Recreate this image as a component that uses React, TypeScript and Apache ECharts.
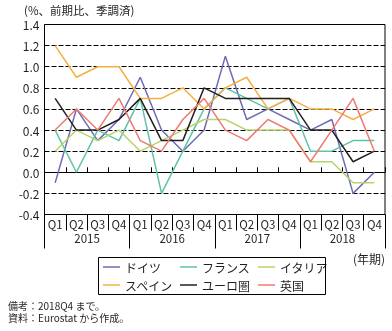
import React, { useEffect, useRef } from "react";
import * as echarts from "echarts";

const quarters = ["Q1","Q2","Q3","Q4","Q1","Q2","Q3","Q4","Q1","Q2","Q3","Q4","Q1","Q2","Q3","Q4"];
const years = ["2015", "2016", "2017", "2018"];
const germany = [-0.1, 0.6, 0.3, 0.5, 0.9, 0.4, 0.2, 0.4, 1.1, 0.5, 0.6, 0.5, 0.4, 0.5, -0.2, 0.0];
const france = [0.4, 0.0, 0.4, 0.3, 0.7, -0.2, 0.2, 0.6, 0.8, 0.7, 0.6, 0.7, 0.2, 0.2, 0.3, 0.3];
const italy = [0.2, 0.4, 0.3, 0.4, 0.2, 0.3, 0.4, 0.5, 0.5, 0.4, 0.4, 0.4, 0.1, 0.1, -0.1, -0.1];
const spain = [1.2, 0.9, 1.0, 1.0, 0.7, 0.7, 0.8, 0.6, 0.8, 0.9, 0.6, 0.7, 0.6, 0.6, 0.5, 0.6];
const euro = [0.7, 0.4, 0.4, 0.5, 0.7, 0.3, 0.3, 0.8, 0.7, 0.7, 0.7, 0.7, 0.4, 0.4, 0.1, 0.2];
const uk = [0.4, 0.6, 0.4, 0.7, 0.3, 0.2, 0.5, 0.7, 0.4, 0.3, 0.5, 0.4, 0.1, 0.4, 0.7, 0.2];

const seriesDefs = [
  { name: "ドイツ", data: germany, color: "#6c6cb5" },
  { name: "フランス", data: france, color: "#5fc3a6" },
  { name: "イタリア", data: italy, color: "#b5d56a" },
  { name: "スペイン", data: spain, color: "#f5b041" },
  { name: "ユーロ圏", data: euro, color: "#231f20" },
  { name: "英国", data: uk, color: "#ee7b72" },
];

const legendPos = [
  { left: 103, top: 261 },
  { left: 180, top: 261 },
  { left: 258, top: 261 },
  { left: 103, top: 279 },
  { left: 180, top: 279 },
  { left: 258, top: 279 },
];

const FONT = "Noto Sans CJK JP, Noto Sans, sans-serif";
const TXT = "#231f20";

export default function App() {
  const ref = useRef<HTMLDivElement>(null);
  useEffect(() => {
    if (!ref.current) return;
    const chart = echarts.init(ref.current, undefined, { renderer: "svg" });
    const legends = seriesDefs.map((s, i) => ({
      show: true,
      data: [s.name],
      left: legendPos[i].left,
      top: legendPos[i].top,
      padding: 0,
      icon: "rect",
      itemWidth: 17,
      itemHeight: 1.5,
      itemGap: 5,
      selectedMode: false,
      textStyle: { fontFamily: FONT, fontSize: 12, color: TXT },
    }));
    chart.setOption({
      animation: false,
      textStyle: { fontFamily: FONT },
      grid: {
        left: 44.5,
        top: 24.5,
        width: 340.5,
        height: 190,
        show: true,
        borderColor: "#000",
        borderWidth: 1,
        backgroundColor: "transparent",
      },
      legend: legends,
      xAxis: [
        {
          type: "category",
          data: quarters,
          position: "bottom",
          boundaryGap: true,
          axisLine: { show: true, onZero: true, lineStyle: { color: "#000", width: 1 } },
          axisTick: { show: true, inside: true, length: 5, interval: 0, lineStyle: { color: "#000" } },
          axisLabel: { show: false },
          splitLine: { show: false },
        },
        {
          type: "category",
          data: quarters,
          position: "bottom",
          boundaryGap: true,
          axisLine: { show: false, onZero: false },
          axisTick: { show: true, length: 16, interval: 0, lineStyle: { color: "#000" } },
          axisLabel: { show: true, interval: 0, margin: 4, fontSize: 11.5, color: TXT, fontFamily: FONT },
          splitLine: { show: false },
        },
        {
          type: "category",
          data: years,
          position: "bottom",
          boundaryGap: true,
          axisLine: { show: false, onZero: false },
          axisTick: { show: true, length: 34, interval: 0, lineStyle: { color: "#000" } },
          axisLabel: {
            show: true,
            interval: 0,
            margin: 18,
            fontSize: 11.5,
            color: TXT,
            fontFamily: FONT,
            formatter: "{y|{value}}",
            rich: { y: { fontFamily: FONT, fontSize: 11.5, color: TXT } },
          },
          splitLine: { show: false },
        },
      ],
      yAxis: {
        type: "value",
        min: -0.4,
        max: 1.4,
        interval: 0.2,
        axisLine: { show: false },
        axisTick: { show: false },
        axisLabel: {
          fontSize: 12,
          color: TXT,
          margin: 5,
          fontFamily: FONT,
          formatter: (v: number) => v.toFixed(1),
        },
        splitLine: { show: true, lineStyle: { color: "#000", type: [5, 2], width: 1 } },
      },
      graphic: [
        {
          type: "rect",
          shape: { x: 98.5, y: 257.5, width: 227, height: 37 },
          style: { fill: "none", stroke: "#000", lineWidth: 1 },
          z: 10,
        },
        {
          type: "text",
          x: 24,
          y: 9.5,
          style: { text: "(%、前期比、季調済)", fontSize: 11.5, fill: TXT, fontFamily: FONT, verticalAlign: "middle" },
        },
        {
          type: "text",
          x: 353,
          y: 258,
          style: { text: "(年期)", fontSize: 12, fill: TXT, fontFamily: FONT, verticalAlign: "middle" },
        },
        {
          type: "text",
          x: 8,
          y: 305,
          style: { text: "備考：2018Q4 まで。", fontSize: 10, lineHeight: 11, fill: TXT, fontFamily: FONT, verticalAlign: "middle" },
        },
        {
          type: "text",
          x: 8,
          y: 317,
          style: { text: "資料：Eurostat から作成。", fontSize: 10, lineHeight: 11, fill: TXT, fontFamily: FONT, verticalAlign: "middle" },
        },
      ],
      series: seriesDefs.map((s) => ({
        name: s.name,
        type: "line",
        xAxisIndex: 0,
        data: s.data,
        symbol: "none",
        color: s.color,
        lineStyle: { color: s.color, width: 1.5 },
        z: 5,
      })),
    });
    return () => chart.dispose();
  }, []);
  return (
    <div
      ref={ref}
      style={{ position: "fixed", left: 0, top: 0, width: 392, height: 331 }}
    />
  );
}
